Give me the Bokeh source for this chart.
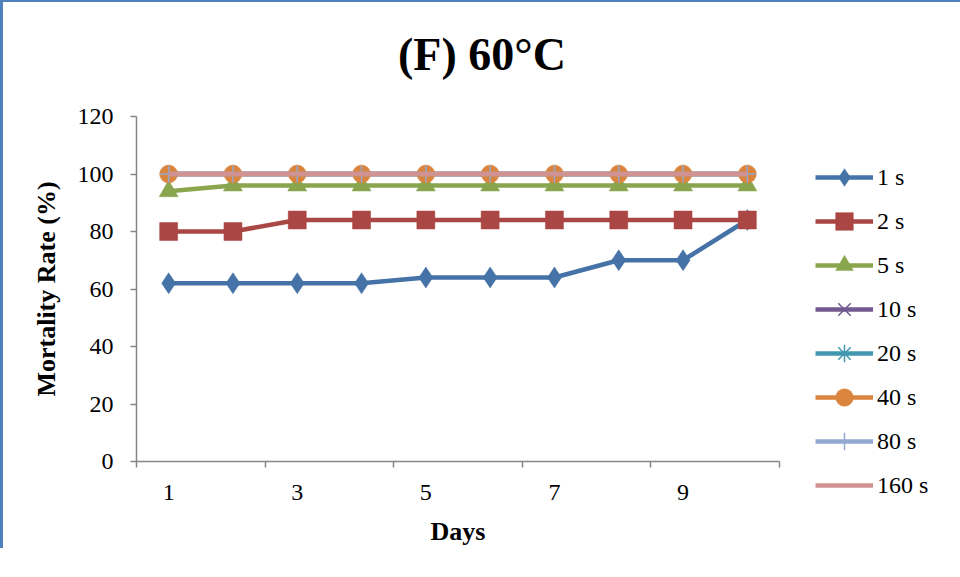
from bokeh.plotting import figure
from bokeh.models import FixedTicker, Legend, LegendItem, Range1d, Div
from bokeh.layouts import column
from bokeh.embed import file_html
from bokeh.resources import INLINE

days = [1, 2, 3, 4, 5, 6, 7, 8, 9, 10]
s1 = [62, 62, 62, 62, 64, 64, 64, 70, 70, 84]
s2 = [80, 80, 84, 84, 84, 84, 84, 84, 84, 84]
s5 = [94, 96, 96, 96, 96, 96, 96, 96, 96, 96]
s10 = [100, 100, 100, 100, 100, 100, 100, 100, 100, 100]
s20 = [100, 100, 100, 100, 100, 100, 100, 100, 100, 100]
s40 = [100, 100, 100, 100, 100, 100, 100, 100, 100, 100]
s80 = [100, 100, 100, 100, 100, 100, 100, 100, 100, 100]
s160 = [100, 100, 100, 100, 100, 100, 100, 100, 100, 100]
series_names = ["1 s", "2 s", "5 s", "10 s", "20 s", "40 s", "80 s", "160 s"]
x_tick_labels = ["1", "3", "5", "7", "9"]
y_ticks = [0, 20, 40, 60, 80, 100, 120]
title_text = "(F) 60°C"

FONT = "Liberation Serif"

title_div = Div(text=title_text, width=945, height=88,
                styles={"font-family": FONT, "font-size": "46px", "font-weight": "bold",
                        "line-height": "96px", "text-indent": "390px", "color": "black",
                        "white-space": "nowrap"})

p = figure(output_backend="svg", toolbar_location=None,
           x_range=Range1d(0.5, 10.5), y_range=Range1d(0, 120),
           frame_width=643, frame_height=345,
           min_border_left=133, min_border_top=16, min_border_right=165, min_border_bottom=40)
p.outline_line_color = None
p.xgrid.visible = False
p.ygrid.visible = False
p.title.text = ""
p.title.standoff = 0

# axes
p.xaxis.ticker = FixedTicker(ticks=[1, 3, 5, 7, 9], minor_ticks=[0.5, 2.5, 4.5, 6.5, 8.5, 10.5])
p.xaxis.major_label_overrides = {1: x_tick_labels[0], 3: x_tick_labels[1], 5: x_tick_labels[2],
                                 7: x_tick_labels[3], 9: x_tick_labels[4]}
p.xaxis.major_tick_out = 0
p.xaxis.major_tick_in = 0
p.xaxis.minor_tick_out = 6
p.xaxis.minor_tick_in = 0
p.xaxis.major_label_standoff = 17
p.xaxis.axis_label = "Days"
p.xaxis.axis_label_standoff = 14

p.yaxis.ticker = FixedTicker(ticks=y_ticks)
p.yaxis.major_tick_out = 6
p.yaxis.major_tick_in = 0
p.yaxis.minor_tick_out = 0
p.yaxis.minor_tick_in = 0
p.yaxis.major_label_standoff = 17
p.yaxis.axis_label = "Mortality Rate (%)"
p.yaxis.axis_label_standoff = 14

for ax in (p.xaxis, p.yaxis):
    ax.axis_line_color = "#868686"
    ax.axis_line_width = 1.5
    ax.major_tick_line_color = "#868686"
    ax.minor_tick_line_color = "#868686"
    ax.major_tick_line_width = 1.5
    ax.minor_tick_line_width = 1.5
    ax.major_label_text_font = FONT
    ax.major_label_text_font_size = "24px"
    ax.major_label_text_color = "black"
    ax.axis_label_text_font = FONT
    ax.axis_label_text_font_size = "26px"
    ax.axis_label_text_font_style = "bold"
    ax.axis_label_text_color = "black"

data = [s1, s2, s5, s10, s20, s40, s80, s160]
colors = ["#4572A7", "#AA4643", "#89A54E", "#71588F", "#4198AF", "#DB843D", "#93A9CF", "#D19392"]
markers = ["diamond", "square", "triangle", "x", "asterisk", "circle", "cross", None]
sizes = [21, 18, 19, 14, 14, 18, 17, 0]

items = []
for name, ys, c, m, s in zip(series_names, data, colors, markers, sizes):
    rs = []
    ln = p.line(days, ys, line_color=c, line_width=4.5)
    rs.append(ln)
    if m is not None:
        if m in ("x", "asterisk", "cross"):
            sc = p.scatter(days, ys, marker=m, size=s, line_color=c, line_width=1.5, fill_color=c)
        else:
            sc = p.scatter(days, ys, marker=m, size=s, line_color=c, fill_color=c, line_width=0.5)
        rs.append(sc)
    items.append(LegendItem(label=name, renderers=rs))

legend = Legend(items=items, location=(36, -46))
legend.background_fill_alpha = 0
legend.border_line_color = None
legend.padding = 0
legend.margin = 0
legend.glyph_width = 58
legend.glyph_height = 44
legend.spacing = 0
legend.label_standoff = 4
legend.label_text_font = FONT
legend.label_text_font_size = "24px"
legend.label_text_color = "black"
p.add_layout(legend, "right")

layout = column(title_div, p, spacing=0,
                styles={"border-left": "3px solid #4F81BD", "border-top": "2px solid #4F81BD"})

open("out.html", "w").write(file_html(layout, INLINE))
